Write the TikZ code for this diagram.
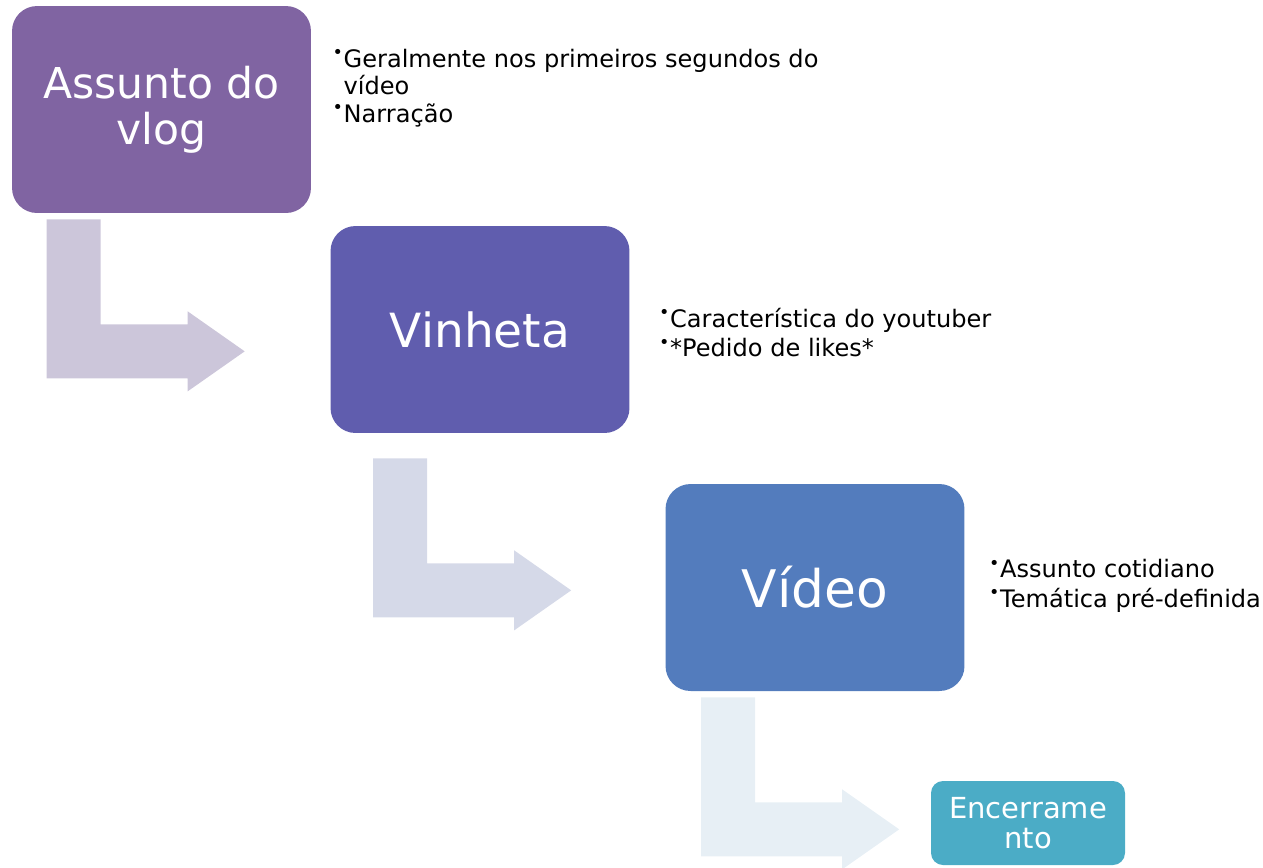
\documentclass[tikz,border=0pt]{standalone}
\usepackage{fontspec}
\setmainfont{DejaVu Sans}
\usepackage{xcolor}
\usetikzlibrary{positioning,calc}

\definecolor{corvlog}{HTML}{8064A2}
\definecolor{corvinheta}{HTML}{605DAE}
\definecolor{corvideo}{HTML}{537CBD}
\definecolor{corfim}{HTML}{4BACC6}
\definecolor{seta1}{HTML}{CCC6DA}
\definecolor{seta2}{HTML}{D5D9E8}
\definecolor{seta3}{HTML}{E7EFF5}

\newcommand{\marca}{\makebox[0.22cm][l]{\raisebox{0.36em}{\fontsize{10}{10}\selectfont\textbullet}}}
% seta dobrada (para baixo e depois para a direita)
\newcommand{\setadobrada}[2]{%
  \fill[#2] (#1) -- ++(54,0) -- ++(0,105) -- ++(87,0) -- ++(0,-13)
    -- ++(57,40) -- ++(-57,40) -- ++(0,-13) -- ++(-141,0) -- cycle;}

\tikzset{
  etapa/.style={rounded corners=0.5cm, minimum width=5.98cm, minimum height=4.14cm,
    text=white, align=center, inner sep=0pt},
  lista/.style={align=left, inner sep=0pt, font=\fontsize{13.7}{15.3}\selectfont},
}

\begin{document}
\begin{tikzpicture}[x=0.02cm, y=-0.02cm]
  \useasboundingbox (0,0) rectangle (1263,867);

  \node (vlog)    [etapa, fill=corvlog, font=\fontsize{24.2}{26}\selectfont] at (161.5,109.5) {Assunto do\\vlog};
  \node (vinheta) [etapa, fill=corvinheta, font=\fontsize{26.8}{28}\selectfont] at (480,329.5) {Vinheta};
  \node (video)   [etapa, fill=corvideo, font=\fontsize{29.5}{31}\selectfont] at (815,587.5) {Vídeo};
  \node (fim)     [etapa, fill=corfim, rounded corners=0.24cm, minimum width=3.88cm,
                   minimum height=1.68cm, font=\fontsize{16.5}{17}\selectfont] at (1028,823) {Encerrame\\nto};

  \node (lvlog)    [lista, right=0.42cm of vlog.north east, anchor=north west, yshift=-0.86cm]
    {\marca Geralmente nos primeiros segundos do\\\hspace{0.22cm}vídeo\\[0.6pt]\marca Narração};
  \node (lvinheta) [lista, right=0.58cm of vinheta, yshift=-0.06cm]
    {\marca Característica do youtuber\\[1.5pt]\marca *Pedido de likes*};
  \node (lvideo)   [lista, right=0.48cm of video, yshift=0.03cm]
    {\marca Assunto cotidiano\\[1.5pt]\marca Temática pré-definida};

  \coordinate (s1) at ($(vlog.south west)+(35,6)$);
  \coordinate (s2) at ($(vinheta.south west)+(43,25)$);
  \coordinate (s3) at ($(video.south west)+(36,6)$);
  \setadobrada{s1}{seta1}
  \setadobrada{s2}{seta2}
  \setadobrada{s3}{seta3}
\end{tikzpicture}
\end{document}
